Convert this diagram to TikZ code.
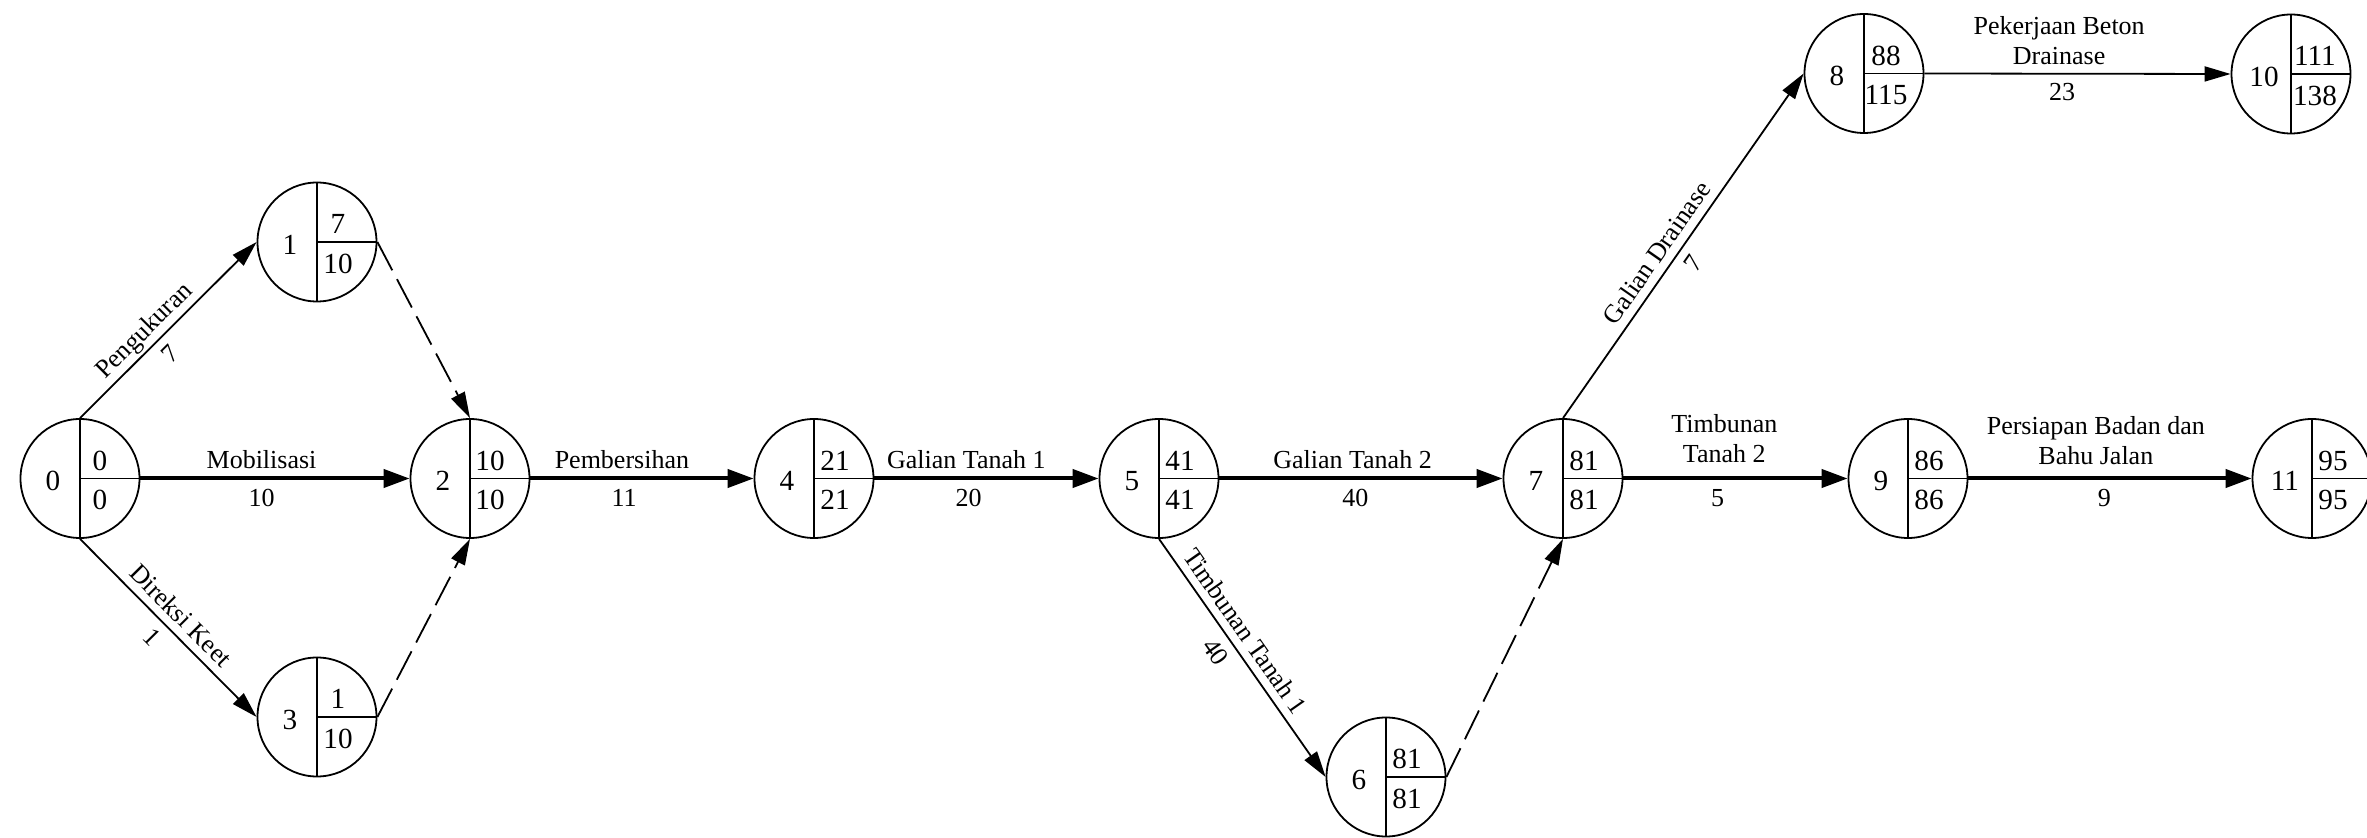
\documentclass[tikz,border=0pt]{standalone}
\usepackage{fontspec}
\setmainfont{Liberation Serif}
\usetikzlibrary{arrows.meta,calc}
\newcommand\eventnode[7]{%
  \node[ev] (#1) at (#2,#3) {};
  \draw[divider] (#1.north) -- (#1.south) (#1.center) -- (#1.east);
  \node[evnum] (#1num) at ($(#1.center)+(-27,2.5)$) {#4};
  \node[evnum] (#1top) at ($(#1.center)+(#7,-18)$) {#5};
  \node[evnum] (#1bot) at ($(#1.center)+(#7,21.5)$) {#6};
}
\begin{document}
\begin{tikzpicture}[x=0.5pt,y=-0.5pt,
  ev/.style={circle,draw,line width=0.9pt,minimum size=59.5pt,inner sep=0pt},
  divider/.style={line width=0.9pt},
  evnum/.style={font=\fontsize{14.6pt}{17pt}\selectfont,inner sep=0pt},
  act/.style={line width=0.9pt,-{Triangle[length=13pt,width=7.5pt]}},
  crit/.style={line width=2pt,-{Triangle[length=13pt,width=9pt]}},
  dummy/.style={line width=0.9pt,dash pattern=on 16pt off 5pt,-{Triangle[length=13pt,width=7.5pt]}},
  lbl/.style={font=\fontsize{13pt}{15pt}\selectfont,align=center,inner xsep=0pt,text depth=0pt},
  lblup/.style={lbl,anchor=south,inner ysep=#1},
  lblup/.default=4.1pt,
  lbldn/.style={lbl,anchor=north,inner ysep=4.4pt},
]
\useasboundingbox (0,0) rectangle (2367,838);

\eventnode{n0}{80}{478.5}{0}{0}{0}{20}
\eventnode{n1}{317}{242}{1}{7}{10}{21}
\eventnode{n2}{470}{478.5}{2}{10}{10}{20}
\eventnode{n3}{317}{717}{3}{1}{10}{21}
\eventnode{n4}{814}{478.5}{4}{21}{21}{21}
\eventnode{n5}{1159}{478.5}{5}{41}{41}{21}
\eventnode{n6}{1386}{777}{6}{81}{81}{21}
\eventnode{n7}{1563}{478.5}{7}{81}{81}{21}
\eventnode{n8}{1864}{73.5}{8}{88}{115}{22}
\eventnode{n9}{1908}{478.5}{9}{86}{86}{21}
\eventnode{n10}{2291}{74}{10}{111}{138}{24}
\eventnode{n11}{2312}{478.5}{11}{95}{95}{21}

\draw[act] (n0.north) -- (n1.west)
  node[lblup,sloped,pos=.43] (l01a) {Pengukuran}
  node[lbldn,sloped,pos=.44] (l01b) {7};
\draw[crit] (n0.east) -- (n2.west)
  node[lblup,pos=.45] (l02a) {Mobilisasi}
  node[lbldn,pos=.45] (l02b) {10};
\draw[act] (n0.south) -- (n3.west)
  node[lblup,sloped,pos=.5] (l03a) {Direksi Keet}
  node[lbldn,sloped,pos=.48] (l03b) {1};
\draw[dummy] (n1.east) -- (n2.north);
\draw[dummy] (n3.east) -- (n2.south);
\draw[crit] (n2.east) -- (n4.west)
  node[lblup,pos=.41] (l24a) {Pembersihan}
  node[lbldn,pos=.42] (l24b) {11};
\draw[crit] (n4.east) -- (n5.west)
  node[lblup,pos=.41] (l45a) {Galian Tanah 1}
  node[lbldn,pos=.42] (l45b) {20};
\draw[crit] (n5.east) -- (n7.west)
  node[lblup,pos=.47] (l57a) {Galian Tanah 2}
  node[lbldn,pos=.48] (l57b) {40};
\draw[act] (n5.south) -- (n6.west)
  node[lblup,sloped,pos=.43] (l56a) {Timbunan Tanah 1}
  node[lbldn,sloped,pos=.43] (l56b) {40};
\draw[dummy] (n6.east) -- (n7.south);
\draw[act] (n7.north) -- (n8.west)
  node[lblup,sloped,pos=.45] (l78a) {Galian Drainase}
  node[lbldn,sloped,pos=.48] (l78b) {7};
\draw[crit] (n7.east) -- (n9.west)
  node[lblup=7pt,pos=.45] (l79a) {Timbunan\\Tanah 2}
  node[lbldn,pos=.42] (l79b) {5};
\draw[act] (n8.east) -- (n10.west)
  node[lblup,pos=.44] (l810a) {Pekerjaan Beton\\Drainase}
  node[lbldn,pos=.45] (l810b) {23};
\draw[crit] (n9.east) -- (n11.west)
  node[lblup=6pt,pos=.45] (l911a) {Persiapan Badan dan\\Bahu Jalan}
  node[lbldn,pos=.48] (l911b) {9};
\end{tikzpicture}
\end{document}
